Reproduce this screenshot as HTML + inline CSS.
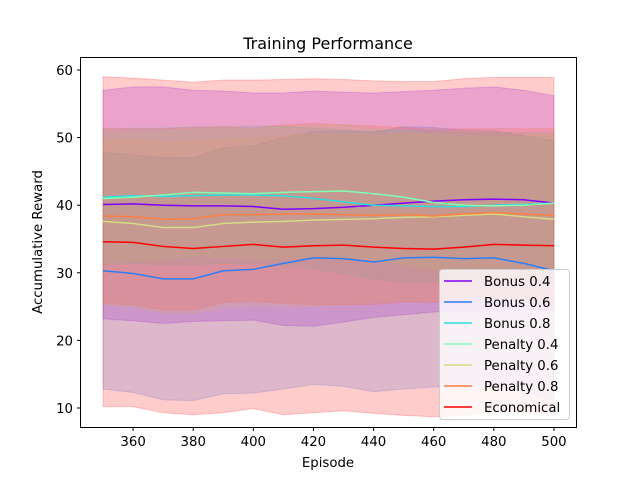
<!DOCTYPE html>
<html><head><meta charset="utf-8"><style>
body{margin:0;background:#fff}
svg{display:block;font-family:"DejaVu Sans","Liberation Sans",sans-serif}
</style></head><body>
<svg id="chart" width="640" height="480" xmlns="http://www.w3.org/2000/svg">
<rect width="640" height="480" fill="#fff"/>
<text x="328" y="49" text-anchor="middle" font-size="16">Training Performance</text>
<g id="fills"></g><g id="lines"></g>
<rect x="80.5" y="57.5" width="496" height="370" fill="none" stroke="#000" stroke-width="1"/>
<g id="ticks" font-size="13.3"></g>
<text x="328" y="467" text-anchor="middle" font-size="13.3">Episode</text>
<text transform="translate(42,242) rotate(-90)" text-anchor="middle" font-size="13.3">Accumulative Reward</text>
<g id="legend" font-size="13.3"></g>
</svg>
<script>
const episodes=[350,360,370,380,390,400,410,420,430,440,450,460,470,480,490,500];
const seriesNames=["Bonus 0.4","Bonus 0.6","Bonus 0.8","Penalty 0.4","Penalty 0.6","Penalty 0.8","Economical"];
const seriesColors=["#8000ff","#2c7ef7","#2adddd","#80ffb4","#d4dd80","#ff7e41","#ff0000"];
const bonus04=[40.1,40.2,40.0,39.9,39.9,39.8,39.4,39.5,39.7,40.0,40.3,40.6,40.8,40.9,40.8,40.3];
const bonus06=[30.3,29.9,29.1,29.1,30.3,30.5,31.4,32.2,32.1,31.6,32.2,32.3,32.1,32.2,31.4,30.3];
const bonus08=[41.2,41.4,41.3,41.4,41.5,41.5,41.4,41.0,40.5,40.0,39.9,39.8,39.8,40.0,40.1,40.3];
const penalty04=[41.0,41.2,41.5,41.9,41.8,41.7,41.9,42.0,42.1,41.7,41.2,40.4,40.0,39.9,40.0,40.3];
const penalty06=[37.6,37.3,36.7,36.7,37.3,37.5,37.6,37.8,37.9,38.0,38.2,38.3,38.5,38.7,38.3,37.9];
const penalty08=[38.4,38.3,37.9,38.0,38.6,38.6,38.7,38.7,38.6,38.5,38.6,38.4,38.7,38.9,38.7,38.5];
const economical=[34.6,34.5,33.9,33.6,33.9,34.2,33.8,34.0,34.1,33.8,33.6,33.5,33.8,34.2,34.1,34.0];
const std04=[16.9,17.3,17.5,17.1,17.0,16.8,17.2,17.4,17.0,16.6,16.5,16.4,16.5,16.6,16.2,15.9];
const std06=[17.5,17.6,17.9,18.0,18.2,18.3,18.6,18.7,18.9,19.2,19.4,19.2,19.0,18.8,18.9,19.2];
const std08=[10.0,10.0,10.1,10.2,10.1,10.2,10.3,10.4,10.6,11.0,11.2,11.2,11.0,10.8,10.6,10.4];
const stdp04=[9.5,9.6,9.5,9.4,9.5,9.6,9.8,9.9,9.8,9.7,9.9,10.0,10.2,10.2,10.1,10.0];
const stdp06=[12.2,12.4,12.6,12.7,12.5,12.4,12.6,12.8,12.6,12.4,12.3,12.4,12.5,12.2,12.3,12.6];
const stdp08=[13.0,13.0,13.4,13.5,13.0,12.8,13.2,13.4,13.3,13.2,12.9,12.8,12.6,12.4,12.6,12.8];
const stdEco=[24.4,24.3,24.6,24.6,24.6,24.3,24.8,24.7,24.5,24.6,24.7,24.8,24.9,24.7,24.8,24.9];
const xTicks=[360,380,400,420,440,460,480,500];
const yTicks=[10,20,30,40,50,60];
const means=[bonus04,bonus06,bonus08,penalty04,penalty06,penalty08,economical];
const stds=[std04,std06,std08,stdp04,stdp06,stdp08,stdEco];
const NS="http://www.w3.org/2000/svg";
function xs(v){return 80.5+(v-342.5)*(496/165);}
function ys(v){return 70+(60-v)*6.76;}
function mk(t,a,p){const e=document.createElementNS(NS,t);for(const k in a)e.setAttribute(k,a[k]);p.appendChild(e);return e;}
const fills=document.getElementById('fills'),lines=document.getElementById('lines');
means.forEach((m,i)=>{
  const up=episodes.map((x,j)=>xs(x)+','+ys(m[j]+stds[i][j]));
  const lo=episodes.map((x,j)=>xs(x)+','+ys(m[j]-stds[i][j])).reverse();
  const f=mk('polygon',{points:up.concat(lo).join(' '),fill:seriesColors[i],'fill-opacity':0.2,stroke:seriesColors[i],'stroke-opacity':0.2},fills);
  
  
});
means.forEach((m,i)=>{
  const l=mk('polyline',{points:episodes.map((x,j)=>xs(x)+','+ys(m[j])).join(' '),fill:'none',stroke:seriesColors[i],'stroke-width':1.5},lines);
  
  
});
const tk=document.getElementById('ticks');
xTicks.forEach(v=>{
  const g=mk('g',{},tk);
  
  
  mk('line',{x1:xs(v),x2:xs(v),y1:427.5,y2:431,stroke:'#000'},g);
  const t=mk('text',{x:xs(v),y:446,'text-anchor':'middle'},g);t.textContent=v;
});
yTicks.forEach(v=>{
  const g=mk('g',{},tk);
  
  
  mk('line',{x1:77,x2:80.5,y1:ys(v),y2:ys(v),stroke:'#000'},g);
  const t=mk('text',{x:73,y:ys(v)+5,'text-anchor':'end'},g);t.textContent=v;
});
const lg=document.getElementById('legend');
const box=mk('rect',{x:439.5,y:269.5,width:130,height:150,rx:3,fill:'#fff','fill-opacity':0.8,stroke:'#ccc'},lg);


seriesNames.forEach((n,i)=>{
  const g=mk('g',{},lg);
  
  
  const y=281+i*21;
  mk('line',{x1:444,x2:472,y1:y,y2:y,stroke:seriesColors[i],'stroke-width':1.5},g);
  const t=mk('text',{x:484,y:y+5},g);t.textContent=n;
});
</script>
</body></html>
